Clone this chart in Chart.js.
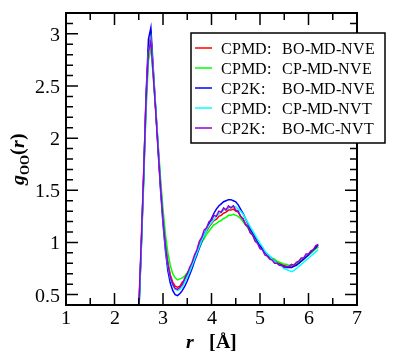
<!DOCTYPE html>
<html>
<head>
<meta charset="utf-8">
<script src="https://cdn.jsdelivr.net/npm/chart.js@4"></script>
<style>
  @font-face { font-family: 'PlotSerif'; font-weight: normal; font-style: normal;
    src: local('Liberation Serif'), local('LiberationSerif'), local('Liberation Serif Regular'), local('Times New Roman'); }
  @font-face { font-family: 'PlotSerif'; font-weight: bold; font-style: normal;
    src: local('Liberation Serif Bold'), local('LiberationSerif-Bold'), local('Times New Roman Bold'); }
  @font-face { font-family: 'PlotSerif'; font-weight: bold; font-style: italic;
    src: local('Liberation Serif Bold Italic'), local('LiberationSerif-BoldItalic'), local('Times New Roman Bold Italic'); }
  body { margin: 0; background: #fff; }
  #wrap { position: relative; width: 400px; height: 361px; font: 20px PlotSerif, 'Liberation Serif', serif; color: #000; }
  #wrap canvas { position: absolute; left: 0; top: 0; }
  .lbl { position: absolute; white-space: pre; font: 20px/20px PlotSerif, 'Liberation Serif', serif; }
  .xt { transform: translate(-50%, -50%); }
  .yt { transform: translateY(-50%); text-align: right; }
  .lg { position: absolute; white-space: pre; font: 16px/16px PlotSerif, 'Liberation Serif', serif; transform: translateY(-50%); }
  .ttl { font-weight: bold; }
  .ttl sub { font-size: 13px; vertical-align: -5px; line-height: 0; }
</style>
</head>
<body>
<div id="wrap"><canvas id="rdfChart" width="400" height="361"></canvas></div>
<script>
// r grid (Angstrom)
const rValues = [2.45, 2.50, 2.55, 2.60, 2.65, 2.70, 2.75, 2.80, 2.85, 2.90, 2.95, 3.00, 3.05, 3.10, 3.15, 3.20, 3.25, 3.30, 3.35, 3.40,
  3.45, 3.50, 3.55, 3.60, 3.65, 3.70, 3.75, 3.80, 3.85, 3.90, 3.95, 4.00, 4.05, 4.10, 4.15, 4.20, 4.25, 4.30, 4.35, 4.40,
  4.45, 4.50, 4.55, 4.60, 4.65, 4.70, 4.75, 4.80, 4.85, 4.90, 4.95, 5.00, 5.05, 5.10, 5.15, 5.20, 5.25, 5.30, 5.35, 5.40,
  5.45, 5.50, 5.55, 5.60, 5.65, 5.70, 5.75, 5.80, 5.85, 5.90, 5.95, 6.00, 6.05, 6.10, 6.15, 6.20];

// g_OO(r) for each run
const cpmdBoNve = [0.02, 0.33, 0.95, 1.62, 2.35, 2.86, 2.99, 2.63, 2.27, 1.91, 1.55, 1.24, 0.99, 0.81, 0.69, 0.62, 0.58, 0.57, 0.58, 0.62,
  0.64, 0.69, 0.73, 0.79, 0.85, 0.91, 0.98, 1.03, 1.08, 1.11, 1.15, 1.18, 1.21, 1.22, 1.25, 1.26, 1.28, 1.29, 1.31, 1.31,
  1.32, 1.30, 1.29, 1.25, 1.22, 1.18, 1.15, 1.11, 1.07, 1.03, 1.00, 0.96, 0.94, 0.90, 0.88, 0.86, 0.84, 0.83, 0.81, 0.80,
  0.79, 0.78, 0.77, 0.77, 0.76, 0.78, 0.79, 0.80, 0.82, 0.84, 0.86, 0.88, 0.90, 0.92, 0.94, 0.96];
const cpmdCpNve = [0.02, 0.30, 0.90, 1.55, 2.25, 2.74, 2.87, 2.58, 2.27, 1.94, 1.61, 1.32, 1.08, 0.90, 0.78, 0.70, 0.66, 0.64, 0.65, 0.66,
  0.68, 0.71, 0.74, 0.79, 0.84, 0.90, 0.95, 1.00, 1.04, 1.08, 1.11, 1.14, 1.17, 1.18, 1.20, 1.21, 1.23, 1.24, 1.26, 1.26,
  1.27, 1.26, 1.25, 1.23, 1.20, 1.17, 1.14, 1.10, 1.07, 1.03, 1.00, 0.97, 0.94, 0.91, 0.89, 0.87, 0.85, 0.84, 0.82, 0.81,
  0.80, 0.79, 0.79, 0.78, 0.78, 0.79, 0.80, 0.81, 0.83, 0.85, 0.86, 0.88, 0.90, 0.92, 0.94, 0.96];
const cp2kBoNve = [0.01, 0.31, 0.93, 1.62, 2.40, 2.95, 3.06, 2.66, 2.27, 1.88, 1.50, 1.18, 0.92, 0.73, 0.61, 0.54, 0.50, 0.49, 0.51, 0.54,
  0.58, 0.63, 0.69, 0.75, 0.82, 0.88, 0.95, 1.01, 1.07, 1.13, 1.18, 1.23, 1.28, 1.32, 1.35, 1.37, 1.39, 1.40, 1.41, 1.41,
  1.40, 1.39, 1.36, 1.32, 1.28, 1.23, 1.18, 1.13, 1.09, 1.05, 1.01, 0.97, 0.94, 0.91, 0.88, 0.86, 0.84, 0.82, 0.80, 0.79,
  0.78, 0.77, 0.76, 0.76, 0.76, 0.77, 0.78, 0.80, 0.82, 0.84, 0.86, 0.88, 0.91, 0.93, 0.95, 0.98];
const cpmdCpNvt = [0.01, 0.30, 0.92, 1.58, 2.32, 2.82, 2.95, 2.64, 2.30, 1.93, 1.55, 1.22, 0.96, 0.78, 0.66, 0.59, 0.55, 0.54, 0.55, 0.58,
  0.62, 0.67, 0.72, 0.78, 0.84, 0.90, 0.96, 1.02, 1.07, 1.12, 1.16, 1.19, 1.22, 1.25, 1.27, 1.29, 1.31, 1.32, 1.33, 1.34,
  1.35, 1.34, 1.32, 1.30, 1.27, 1.23, 1.19, 1.15, 1.11, 1.07, 1.03, 0.99, 0.96, 0.92, 0.89, 0.87, 0.84, 0.82, 0.80, 0.78,
  0.77, 0.75, 0.74, 0.73, 0.72, 0.73, 0.75, 0.77, 0.79, 0.81, 0.83, 0.85, 0.87, 0.89, 0.91, 0.93];
const cp2kBoMcNvt = [0.03, 0.36, 0.98, 1.64, 2.36, 2.83, 2.93, 2.60, 2.26, 1.89, 1.53, 1.22, 0.97, 0.79, 0.67, 0.60, 0.56, 0.55, 0.57, 0.60,
  0.66, 0.70, 0.76, 0.81, 0.88, 0.93, 1.01, 1.05, 1.12, 1.14, 1.20, 1.21, 1.26, 1.25, 1.30, 1.29, 1.33, 1.31, 1.35, 1.33,
  1.35, 1.31, 1.30, 1.25, 1.23, 1.17, 1.15, 1.09, 1.07, 1.01, 0.99, 0.94, 0.93, 0.88, 0.87, 0.84, 0.83, 0.80, 0.80, 0.78,
  0.78, 0.76, 0.77, 0.77, 0.79, 0.78, 0.81, 0.82, 0.85, 0.85, 0.89, 0.89, 0.92, 0.93, 0.97, 0.98];

const seriesCodes = ['CPMD:', 'CPMD:', 'CP2K:', 'CPMD:', 'CP2K:'];
const seriesRuns = ['BO-MD-NVE', 'CP-MD-NVE', 'BO-MD-NVE', 'CP-MD-NVT', 'BO-MC-NVT'];
const seriesColors = ['#ff0000', '#00ff00', '#0000ff', '#00ffff', '#9400d3'];
const seriesValues = [cpmdBoNve, cpmdCpNve, cp2kBoNve, cpmdCpNvt, cp2kBoMcNvt];

const xTicks = [1, 2, 3, 4, 5, 6, 7];
const yTicks = [0.5, 1, 1.5, 2, 2.5, 3];

const legendBox = { left: 191, top: 33, right: 385, bottom: 143 };

// frame, inward ticks and the legend box (text goes on top as html)
const framePlugin = {
  id: 'frame',
  afterDraw(chart) {
    const ctx = chart.ctx;
    const a = chart.chartArea;
    const xs = chart.scales.x, ys = chart.scales.y;
    ctx.save();
    ctx.strokeStyle = '#000';
    ctx.lineWidth = 1.5;
    ctx.beginPath();
    // x ticks: majors on integers, minors half way
    for (let i = 0; i < xTicks.length; i++) {
      const px = xs.getPixelForValue(xTicks[i]);
      ctx.moveTo(px, a.bottom); ctx.lineTo(px, a.bottom - 12);
      ctx.moveTo(px, a.top); ctx.lineTo(px, a.top + 12);
      if (i < xTicks.length - 1) {
        const pm = xs.getPixelForValue((xTicks[i] + xTicks[i + 1]) / 2);
        ctx.moveTo(pm, a.bottom); ctx.lineTo(pm, a.bottom - 7);
        ctx.moveTo(pm, a.top); ctx.lineTo(pm, a.top + 7);
      }
    }
    // y ticks: majors every 0.5, minors every 0.1
    for (let k = 5; k <= 31; k++) {
      const py = ys.getPixelForValue(k / 10);
      const len = (k % 5 === 0) ? 12 : 7;
      ctx.moveTo(a.left, py); ctx.lineTo(a.left + len, py);
      ctx.moveTo(a.right, py); ctx.lineTo(a.right - len, py);
    }
    ctx.stroke();
    ctx.lineWidth = 2;
    ctx.strokeRect(a.left, a.top, a.right - a.left, a.bottom - a.top);

    // legend box with line samples
    const b = legendBox;
    ctx.fillStyle = '#fff';
    ctx.fillRect(b.left, b.top, b.right - b.left, b.bottom - b.top);
    ctx.lineWidth = 1.5;
    ctx.strokeStyle = '#000';
    ctx.strokeRect(b.left, b.top, b.right - b.left, b.bottom - b.top);
    for (let i = 0; i < seriesRuns.length; i++) {
      const yy = 48 + i * 20;
      ctx.strokeStyle = seriesColors[i];
      ctx.beginPath();
      ctx.moveTo(195, yy); ctx.lineTo(212, yy);
      ctx.stroke();
    }
    ctx.restore();
  }
};

const datasets = seriesValues.map((vals, i) => ({
  label: seriesCodes[i] + ' ' + seriesRuns[i],
  data: rValues.map((r, j) => ({ x: r, y: vals[j] })),
  borderColor: seriesColors[i],
  backgroundColor: seriesColors[i],
  borderWidth: 1.5,
  pointRadius: 0,
  tension: 0,
  order: seriesValues.length - i
}));

const ctx = document.getElementById('rdfChart').getContext('2d');
const rdfChart = new Chart(ctx, {
  type: 'line',
  data: { datasets: datasets },
  options: {
    responsive: false,
    animation: false,
    layout: { padding: { left: 0, right: 43, top: 13, bottom: 0 } },
    plugins: { legend: { display: false }, tooltip: { enabled: false } },
    scales: {
      x: {
        type: 'linear',
        min: 1, max: 7,
        grid: { display: false, drawTicks: false },
        border: { display: false },
        afterBuildTicks: s => { s.ticks = xTicks.map(v => ({ value: v })); },
        afterFit: s => { s.height = 56; },
        ticks: { display: false }
      },
      y: {
        min: 0.4, max: 3.2,
        grid: { display: false, drawTicks: false },
        border: { display: false },
        afterBuildTicks: s => { s.ticks = yTicks.map(v => ({ value: v })); },
        afterFit: s => { s.width = 66; },
        ticks: { display: false }
      }
    }
  },
  plugins: [framePlugin]
});

// tick labels, axis titles and legend text as html, placed from the chart's scales
function addText(chart) {
  const wrap = document.getElementById('wrap');
  const a = chart.chartArea;
  const xs = chart.scales.x, ys = chart.scales.y;
  function put(cls, html, style) {
    const d = document.createElement('div');
    d.className = cls;
    d.innerHTML = html;
    Object.assign(d.style, style);
    wrap.appendChild(d);
    return d;
  }
  xTicks.forEach(v => put('lbl xt', String(v), { left: xs.getPixelForValue(v) + 'px', top: (a.bottom + 12) + 'px' }));
  yTicks.forEach(v => put('lbl yt', String(v), { right: (400 - a.left + 6) + 'px', top: ys.getPixelForValue(v) + 'px' }));
  put('lbl ttl', '<i>r</i>   [Å]', { left: ((a.left + a.right) / 2) + 'px', top: '331px', transform: 'translateX(-50%)' });
  put('lbl ttl', '<i>g</i><sub>OO</sub>(<i>r</i>)', {
    left: '17px', top: ((a.top + a.bottom) / 2) + 'px',
    transform: 'translate(-50%, -50%) rotate(-90deg)'
  });
  for (let i = 0; i < seriesRuns.length; i++) {
    const yy = 48 + i * 20 + 1;
    put('lg', seriesCodes[i], { left: '221px', top: yy + 'px' });
    put('lg', seriesRuns[i], { left: '282px', top: yy + 'px' });
  }
}
addText(rdfChart);
</script>
</body>
</html>
